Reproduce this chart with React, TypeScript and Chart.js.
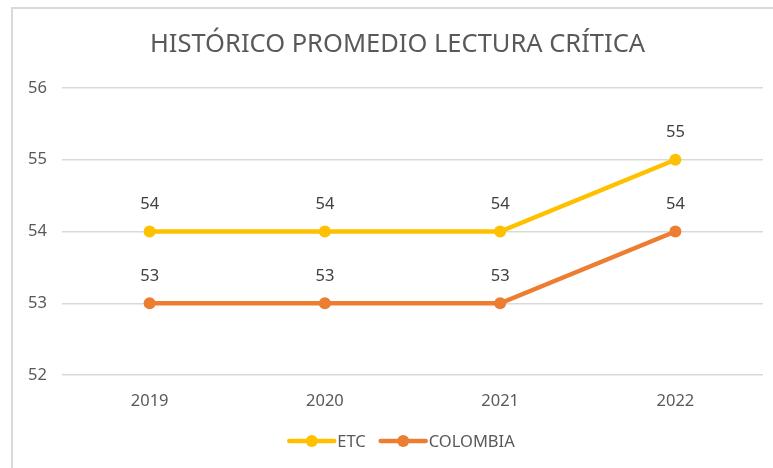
import React, { useEffect, useRef } from "react";
import { Chart, registerables } from "chart.js";

Chart.register(...registerables);

const categories = ["2019", "2020", "2021", "2022"];
const etcValues = [54, 54, 54, 55];
const colombiaValues = [53, 53, 53, 54];
const yTicks = [52, 53, 54, 55, 56];
const titleText = "HISTÓRICO PROMEDIO LECTURA CRÍTICA";
const seriesNames = ["ETC", "COLOMBIA"];
const seriesColors = ["#FFC000", "#ED7D31"];

const FONT = "'Noto Sans', 'Open Sans', sans-serif";
const TEXT = "#595959";
const FS = 16.5;

const customPlugin = {
  id: "custom",
  afterDatasetsDraw(chart: any) {
    const ctx = chart.ctx;
    ctx.save();
    ctx.font = `${FS}px ${FONT}`;
    ctx.fillStyle = "#404040";
    ctx.textAlign = "center";
    ctx.textBaseline = "middle";
    chart.data.datasets.forEach((ds: any, i: number) => {
      const meta = chart.getDatasetMeta(i);
      meta.data.forEach((pt: any, j: number) => {
        ctx.fillText(String(ds.data[j]), pt.x, pt.y - 27);
      });
    });
    ctx.restore();
  },
  afterDraw(chart: any) {
    const ctx = chart.ctx;
    ctx.save();
    ctx.font = `25.5px ${FONT}`;
    ctx.fillStyle = TEXT;
    ctx.textAlign = "center";
    ctx.textBaseline = "middle";
    ctx.fillText(titleText, (chart.chartArea.left + chart.chartArea.right) / 2 - 15, 45);
    // legend
    ctx.font = `${FS}px ${FONT}`;
    const lineLen = 45;
    const gap = 3;
    const itemGap = 15;
    const widths = seriesNames.map((n) => lineLen + gap + ctx.measureText(n).width);
    const total = widths.reduce((a, b) => a + b, 0) + itemGap * (seriesNames.length - 1);
    let x = 402 - total / 2;
    const y = 441;
    seriesNames.forEach((n, i) => {
      ctx.strokeStyle = seriesColors[i];
      ctx.lineWidth = 4.5;
      ctx.lineCap = "round";
      ctx.beginPath();
      ctx.moveTo(x, y);
      ctx.lineTo(x + lineLen, y);
      ctx.stroke();
      ctx.fillStyle = seriesColors[i];
      ctx.beginPath();
      ctx.arc(x + lineLen / 2, y, 6, 0, Math.PI * 2);
      ctx.fill();
      ctx.fillStyle = TEXT;
      ctx.textAlign = "left";
      ctx.fillText(n, x + lineLen + gap, y + 1);
      x += widths[i] + itemGap;
    });
    ctx.restore();
  },
};

export default function App() {
  const ref = useRef<HTMLCanvasElement>(null);
  useEffect(() => {
    if (!ref.current) return;
    const chart = new Chart(ref.current, {
      type: "line",
      data: {
        labels: categories,
        datasets: [
          {
            label: seriesNames[0],
            data: etcValues,
            borderColor: seriesColors[0],
            backgroundColor: seriesColors[0],
            borderWidth: 4.5,
            pointRadius: 6,
            pointBorderWidth: 0,
            pointBackgroundColor: seriesColors[0],
            tension: 0,
          },
          {
            label: seriesNames[1],
            data: colombiaValues,
            borderColor: seriesColors[1],
            backgroundColor: seriesColors[1],
            borderWidth: 4.5,
            pointRadius: 6,
            pointBorderWidth: 0,
            pointBackgroundColor: seriesColors[1],
            tension: 0,
          },
        ],
      },
      plugins: [customPlugin],
      options: {
        animation: false,
        responsive: false,
        maintainAspectRatio: false,
        layout: { padding: { top: 88, right: 10, bottom: 0, left: 0 } },
        plugins: {
          legend: { display: false },
          title: { display: false },
          tooltip: { enabled: false },
        },
        scales: {
          x: {
            offset: true,
            grid: { display: false, drawTicks: false },
            border: { display: false },
            ticks: { color: TEXT, font: { family: FONT, size: FS }, padding: 16 },
            afterFit: (s: any) => {
              s.height = 93;
            },
          },
          y: {
            min: 52,
            max: 56,
            afterBuildTicks: (s: any) => {
              s.ticks = yTicks.map((v) => ({ value: v }));
            },
            grid: { color: "#d9d9d9", lineWidth: 1.5, drawTicks: false },
            border: { display: false },
            ticks: { color: TEXT, font: { family: FONT, size: FS }, padding: 15 },
            afterFit: (s: any) => {
              s.width = 62;
            },
          },
        },
      },
    });
    return () => chart.destroy();
  }, []);
  return (
    <div style={{ position: "fixed", left: 0, top: 0, width: 773, height: 468, background: "#fff" }}>
      <div
        style={{
          position: "absolute",
          left: 11,
          top: 7,
          width: 800,
          height: 500,
          border: "2px solid #d9d9d9",
          boxSizing: "border-box",
        }}
      />
      <canvas ref={ref} width={773} height={468} style={{ position: "absolute", left: 0, top: 0 }} />
    </div>
  );
}
